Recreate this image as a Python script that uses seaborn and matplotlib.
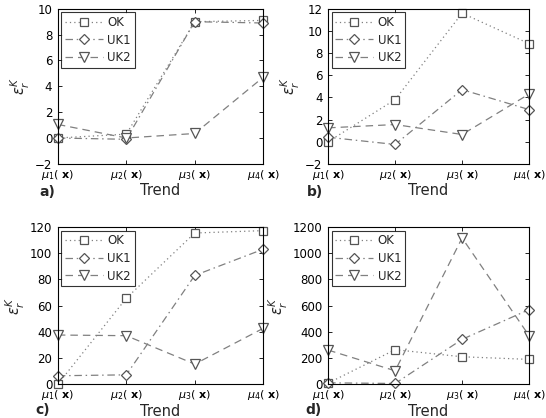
import numpy as np
import pandas as pd
import matplotlib
matplotlib.use("Agg")
import matplotlib.pyplot as plt
import seaborn as sns

trends = [r"$\mu_1$( $\mathbf{x}$)", r"$\mu_2$( $\mathbf{x}$)", r"$\mu_3$( $\mathbf{x}$)", r"$\mu_4$( $\mathbf{x}$)"]
series = ["OK", "UK1", "UK2"]

a_ok = [0.0, 0.3, 9.0, 9.1]
a_uk1 = [0.0, -0.1, 9.0, 8.9]
a_uk2 = [1.05, 0.0, 0.35, 4.7]

b_ok = [0.0, 3.8, 11.6, 8.85]
b_uk1 = [0.4, -0.25, 4.7, 2.9]
b_uk2 = [1.25, 1.55, 0.65, 4.3]

c_ok = [0.0, 65.6, 115.4, 117.2]
c_uk1 = [6.4, 7.1, 83.0, 103.0]
c_uk2 = [37.5, 37.0, 15.3, 42.6]

d_ok = [8.0, 263.0, 209.0, 189.0]
d_uk1 = [10.0, 5.0, 342.0, 569.0]
d_uk2 = [260.0, 102.0, 1116.0, 370.0]

panels = [
    ("a)", [a_ok, a_uk1, a_uk2], (-2, 10), np.arange(-2, 11, 2)),
    ("b)", [b_ok, b_uk1, b_uk2], (-2, 12), np.arange(-2, 13, 2)),
    ("c)", [c_ok, c_uk1, c_uk2], (0, 120), np.arange(0, 121, 20)),
    ("d)", [d_ok, d_uk1, d_uk2], (0, 1200), np.arange(0, 1201, 200)),
]

sns.set_theme(style="ticks")
plt.rcParams["font.family"] = ["DejaVu Sans"]
plt.rcParams["mathtext.fontset"] = "dejavusans"

fig = plt.figure(figsize=(5.46, 4.18), dpi=100)
positions = [
    [0.106, 0.608, 0.376, 0.371],
    [0.601, 0.608, 0.368, 0.371],
    [0.106, 0.081, 0.376, 0.376],
    [0.601, 0.081, 0.368, 0.376],
]
label_pos = [(-0.015, -0.18), (-0.025, -0.18), (-0.04, -0.165), (-0.03, -0.165)]
styles = {
    "OK": dict(linestyle=(0, (1, 2.5)), marker="s", markersize=5.5),
    "UK1": dict(linestyle=(0, (6, 3, 1.2, 3)), marker="D", markersize=5.5),
    "UK2": dict(linestyle=(0, (6, 4)), marker="v", markersize=7.5),
}
gray = "#808080"

for (lab, vals, ylim, yticks), pos, lp in zip(panels, positions, label_pos):
    ax = fig.add_axes(pos)
    for name, v in zip(series, vals):
        df = pd.DataFrame({"x": np.arange(4), "y": v})
        st = styles[name]
        sns.lineplot(data=df, x="x", y="y", ax=ax, color=gray, linewidth=0.9,
                     linestyle=st["linestyle"], marker=st["marker"],
                     markersize=st["markersize"],
                     markerfacecolor="white", markeredgecolor="#555555",
                     markeredgewidth=0.9, label=name, clip_on=False)
    ax.set_xlim(0, 3)
    ax.set_ylim(*ylim)
    ax.set_yticks(yticks)
    ax.set_xticks(np.arange(4))
    ax.set_xticklabels(trends)
    ax.tick_params(direction="in", length=3, width=0.6, labelsize=8.5, pad=3,
                   top=True, right=True, colors="black")
    ax.tick_params(axis="x", labelsize=8)
    ax.tick_params(axis="y", pad=4)
    for sp in ax.spines.values():
        sp.set_visible(True)
        sp.set_linewidth(0.8)
        sp.set_color("black")
    ax.set_xlabel("Trend", fontsize=10.5, labelpad=1)
    ax.set_ylabel(r"$\varepsilon_r^K$", fontsize=10.5, labelpad=2)
    leg = ax.legend(loc="upper left", fontsize=8.5, frameon=True, fancybox=False,
                    edgecolor="black", handlelength=3.2, borderaxespad=0.3,
                    labelspacing=0.4, borderpad=0.3, handletextpad=0.4)
    leg.get_frame().set_linewidth(0.8)
    ax.text(lp[0], lp[1], lab, transform=ax.transAxes, fontsize=10,
            fontweight="bold", ha="right", va="center")

fig.savefig("out.png", dpi=100)
